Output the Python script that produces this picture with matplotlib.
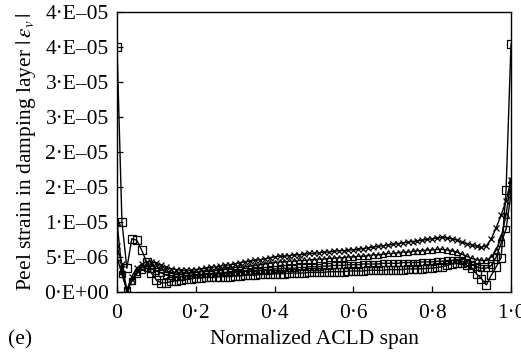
import numpy as np
import matplotlib
matplotlib.use('Agg')
import matplotlib.pyplot as plt

plt.rcParams['font.family'] = ['Liberation Serif', 'DejaVu Serif']
plt.rcParams['mathtext.fontset'] = 'stix'

# normalized span positions (81 stations)
span = np.arange(81) / 80.0

# peel strain values, units of 1e-6
sq_low = [35.0, 10.0, 3.4, 7.6, 7.4, 6.0, 4.3, 2.7, 1.7, 1.3, 1.3, 1.5, 1.6, 1.7, 1.8, 1.9, 2.0,
          2.0, 2.1, 2.1, 2.1, 2.2, 2.2, 2.2, 2.3, 2.3, 2.4, 2.4, 2.4, 2.5, 2.5, 2.5, 2.6,
          2.6, 2.6, 2.7, 2.7, 2.7, 2.7, 2.8, 2.8, 2.8, 2.8, 2.9, 2.9, 2.9, 2.9, 3.0, 3.0,
          3.0, 3.0, 3.1, 3.1, 3.1, 3.1, 3.2, 3.2, 3.2, 3.2, 3.3, 3.3, 3.3, 3.3, 3.4, 3.4,
          3.5, 3.6, 3.8, 4.0, 4.1, 4.1, 3.8, 3.4, 2.6, 1.9, 1.0, 2.4, 3.6, 4.9, 14.6, 35.4]
sq_up = [5.0, 2.5, 0.3, 1.5, 2.6, 3.2, 3.4, 3.3, 3.0, 2.7, 2.4, 2.3, 2.2, 2.2, 2.3, 2.4, 2.5,
         2.5, 2.6, 2.6, 2.7, 2.7, 2.8, 2.8, 2.9, 2.9, 3.0, 3.0, 3.1, 3.1, 3.2, 3.2, 3.3,
         3.3, 3.4, 3.4, 3.4, 3.5, 3.5, 3.6, 3.6, 3.6, 3.7, 3.7, 3.8, 3.8, 3.8, 3.9, 3.9,
         3.9, 4.0, 4.0, 4.0, 4.0, 4.1, 4.1, 4.1, 4.1, 4.2, 4.2, 4.2, 4.2, 4.3, 4.3, 4.3,
         4.4, 4.4, 4.5, 4.5, 4.5, 4.4, 4.2, 3.9, 3.6, 3.4, 3.4, 3.8, 5.0, 7.0, 9.0, 14.0]
tri = [10.0, 3.0, 0.0, 1.6, 2.8, 3.5, 3.8, 3.8, 3.6, 3.3, 3.0, 2.8, 2.7, 2.7, 2.7, 2.7, 2.8,
       2.9, 3.0, 3.0, 3.1, 3.2, 3.3, 3.4, 3.5, 3.5, 3.6, 3.7, 3.8, 3.9, 4.0, 4.1, 4.2,
       4.3, 4.3, 4.4, 4.4, 4.5, 4.5, 4.6, 4.6, 4.7, 4.7, 4.8, 4.8, 4.9, 4.9, 5.0, 5.0,
       5.1, 5.1, 5.2, 5.3, 5.3, 5.4, 5.5, 5.5, 5.6, 5.7, 5.7, 5.8, 5.9, 5.9, 6.0, 6.0,
       6.1, 6.1, 6.0, 5.9, 5.7, 5.4, 5.1, 4.8, 4.6, 4.5, 4.5, 5.0, 6.0, 7.8, 11.0, 16.0]
cross = [6.5, 4.0, 0.3, 2.2, 3.4, 4.0, 4.3, 4.3, 4.1, 3.8, 3.5, 3.3, 3.2, 3.1, 3.1, 3.1, 3.2,
         3.3, 3.4, 3.5, 3.6, 3.7, 3.8, 3.9, 4.0, 4.2, 4.3, 4.4, 4.5, 4.6, 4.7, 4.9, 5.0,
         5.1, 5.1, 5.2, 5.3, 5.3, 5.4, 5.5, 5.5, 5.6, 5.7, 5.7, 5.8, 5.9, 5.9, 6.0, 6.0,
         6.1, 6.2, 6.3, 6.4, 6.5, 6.6, 6.7, 6.8, 6.9, 7.0, 7.1, 7.2, 7.3, 7.4, 7.5, 7.6,
         7.7, 7.8, 7.7, 7.6, 7.4, 7.1, 6.9, 6.7, 6.5, 6.4, 6.6, 7.6, 9.2, 11.0, 13.0, 16.0]

xticks = [0, 0.2, 0.4, 0.6, 0.8, 1.0]
xtick_labels = ['0', '0·2', '0·4', '0·6', '0·8', '1·0']
yticks = [0, 5e-6, 1e-5, 1.5e-5, 2e-5, 2.5e-5, 3e-5, 3.5e-5, 4e-5]
ytick_labels = ['0·E+00', '5·E–06', '1·E–05', '2·E–05', '2·E–05',
                '3·E–05', '3·E–05', '4·E–05', '4·E–05']

fig = plt.figure(figsize=(5.21, 3.52), dpi=100)
ax = fig.add_axes([0.2246, 0.1705, 0.7562, 0.7955])

style = dict(color='black', lw=1.0, markerfacecolor='none', markeredgecolor='black',
             markeredgewidth=0.9)
ax.plot(span, np.array(cross) * 1e-6, marker='x', ms=5, **style)
ax.plot(span, np.array(tri) * 1e-6, marker='^', ms=5, **style)
ax.plot(span, np.array(sq_up) * 1e-6, marker='s', ms=5, **style)
ax.plot(span, np.array(sq_low) * 1e-6, marker='s', ms=5.5, **style)

ax.set_xlim(0, 1.0)
ax.set_ylim(0, 4e-5)
ax.set_xticks(xticks)
ax.set_xticklabels(xtick_labels)
ax.set_yticks(yticks)
ax.set_yticklabels(ytick_labels)
ax.tick_params(direction='in', length=4, width=0.9, labelsize=15.5)
ax.tick_params(axis='x', pad=9)
ax.tick_params(axis='y', pad=6)
for s in ax.spines.values():
    s.set_linewidth(1.0)

ax.set_xlabel('Normalized ACLD span', fontsize=15.5, labelpad=5)
ax.set_ylabel(r'Peel strain in damping layer $|\,\varepsilon_v\,|$', fontsize=15.5, labelpad=4)
fig.text(0.015, 0.02, '(e)', fontsize=15.5)

fig.savefig('out.png', dpi=100)
